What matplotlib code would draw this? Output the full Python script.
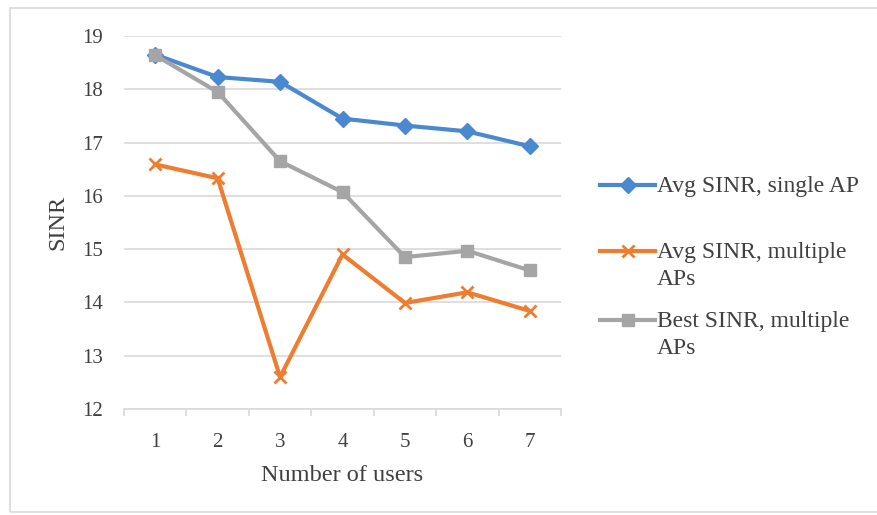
import matplotlib
matplotlib.use("Agg")
import matplotlib.pyplot as plt
from matplotlib.patches import Rectangle
from matplotlib.lines import Line2D

users = [1, 2, 3, 4, 5, 6, 7]
avg_single = [18.65, 18.23, 18.14, 17.45, 17.32, 17.21, 16.93]
avg_multi = [16.59, 16.33, 12.60, 14.90, 13.99, 14.19, 13.84]
best_multi = [18.64, 17.95, 16.65, 16.07, 14.85, 14.97, 14.60]
labels = ["Avg SINR, single AP", "Avg SINR, multiple\nAPs", "Best SINR, multiple\nAPs"]

plt.rcParams['font.family'] = ['Liberation Serif', 'DejaVu Serif']

W, H = 877, 515
fig = plt.figure(figsize=(W / 100, H / 100), dpi=100)
fig.patches.append(Rectangle((10 / W, 1 - 512 / H), 870 / W, 504 / H, transform=fig.transFigure,
                             fill=False, edgecolor='#D9D9D9', linewidth=1.2))
ax = fig.add_axes([124 / W, 1 - 409 / H, 437 / W, 373 / H])

blue = '#4A89CF'
orange = '#ED7D31'
gray = '#A5A5A5'
txt = '#404040'
styles = [
    dict(color=blue, lw=3, marker='D', ms=8.5, mfc=blue, mec=blue),
    dict(color=orange, lw=3, marker='x', ms=9, mew=2, mec=orange),
    dict(color=gray, lw=3, marker='s', ms=9, mfc=gray, mec=gray),
]
for ys, st in zip([avg_single, avg_multi, best_multi], styles):
    ax.plot(users, ys, zorder=3, **st)

ax.set_xlim(0.5, 7.5)
ax.set_ylim(12, 19)
ax.set_yticks(range(12, 20))
ax.set_xticks(users)
ax.set_xticks([i + 0.5 for i in range(0, 8)], minor=True)
ax.yaxis.grid(True, color='#D9D9D9', lw=1.2)
ax.set_axisbelow(True)
for s in ['top', 'right', 'left']:
    ax.spines[s].set_visible(False)
ax.spines['bottom'].set_color('#D9D9D9')
ax.spines['bottom'].set_linewidth(1.2)
ax.tick_params(axis='y', length=0, labelsize=15, labelcolor=txt, pad=15)
ax.tick_params(axis='x', which='major', length=0, labelsize=15, labelcolor=txt, pad=17.5)
ax.tick_params(axis='x', which='minor', length=5, color='#D9D9D9', width=1.2)
ax.set_xlabel('Number of users', fontsize=17.5, color=txt, labelpad=9)
ax.set_ylabel('SINR', fontsize=17.5, color=txt, labelpad=10)

# legend (manual layout: key aligned with first text line)
leg_y = [185, 251, 320]
for y, st, lab in zip(leg_y, styles, labels):
    yf = 1 - y / H
    st2 = dict(st)
    fig.add_artist(Line2D([600 / W, 655 / W], [yf, yf], transform=fig.transFigure,
                          color=st2['color'], lw=st2['lw']))
    mk = dict(st2)
    mk.pop('lw')
    fig.add_artist(Line2D([627.5 / W], [yf], transform=fig.transFigure, ls='none', **mk))
    fig.text(657 / W, 1 - (y - 9) / H, lab, ha='left', va='top', fontsize=17,
             color=txt, linespacing=1.4)

fig.savefig('out.png', dpi=100)
